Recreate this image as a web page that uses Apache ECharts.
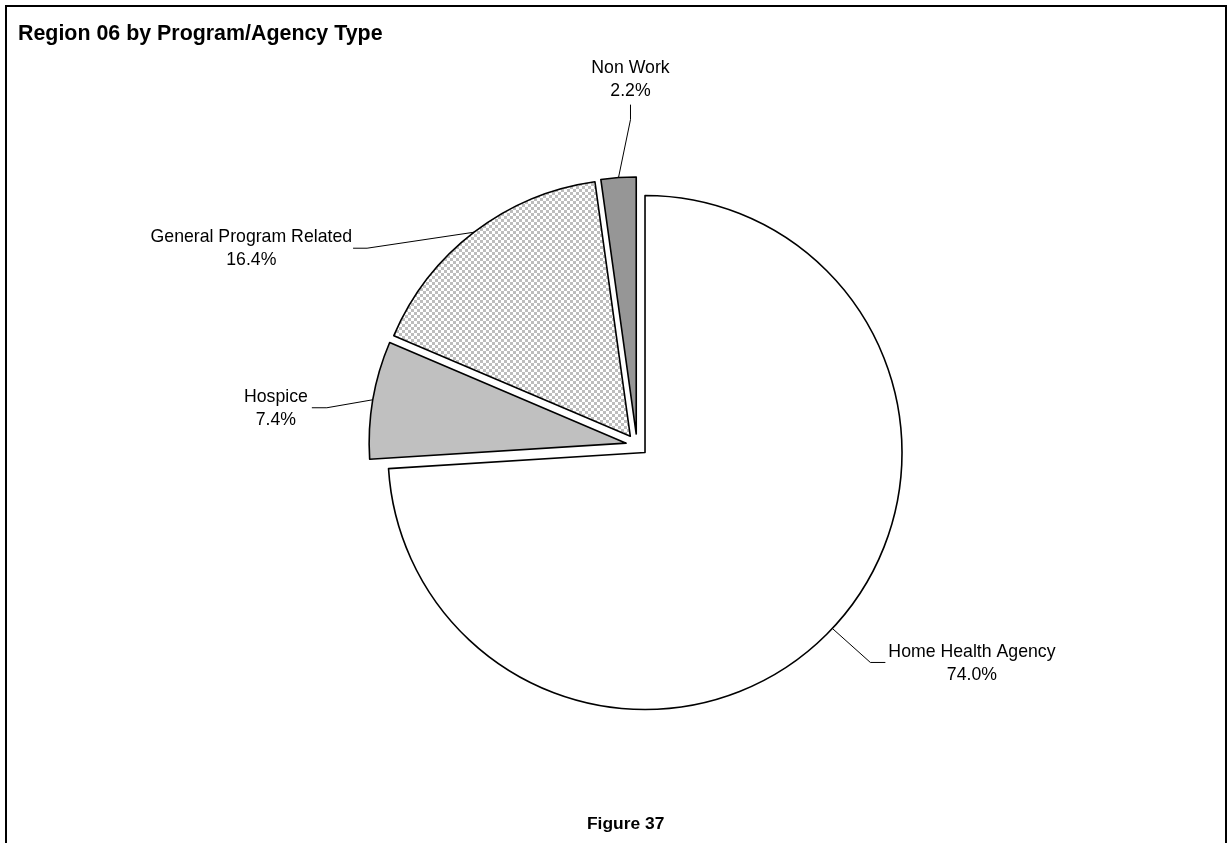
<!DOCTYPE html>
<html>
<head>
<meta charset="utf-8">
<script src="https://cdn.jsdelivr.net/npm/echarts@6/dist/echarts.min.js"></script>
<style>
  html, body { margin: 0; padding: 0; background: #ffffff; }
  #chart { width: 1231px; height: 843px; }
</style>
</head>
<body>
<div id="chart"></div>
<script>
// Share of cases by program / agency type, Region 06
const categories = ['Home Health Agency', 'Hospice', 'General Program Related', 'Non Work'];
const shares = [74.0, 7.4, 16.4, 2.2];

// Slice fills (the third slice uses a checkerboard pattern)
const sliceFills = ['#ffffff', '#c0c0c0', 'checker', '#969696'];

// Pie geometry
const PIE_CX = 637, PIE_CY = 445, PIE_R = 257, EXPLODE = 11;

// Leader line shape for each slice, relative to the arc midpoint:
// elbow offset, end offset, and which side of the end the text sits on
const leaders = [
  { ex: 38, ey: 34, tx: 53, ty: 34, side: 'right', gap: 3, dy: 1.5 },
  { ex: -46, ey: 8, tx: -61, ty: 8, side: 'left', gap: 4, dy: 1 },
  { ex: -107, ey: 16, tx: -121, ty: 16, side: 'left', gap: 1, dy: 0.5 },
  { ex: 12, ey: -58, tx: 12, ty: -73, side: 'top', gap: 2, dy: 0 }
];

function checkerPattern(cell, dark) {
  const c = document.createElement('canvas');
  c.width = cell * 2; c.height = cell * 2;
  const g = c.getContext('2d');
  g.fillStyle = '#ffffff';
  g.fillRect(0, 0, c.width, c.height);
  g.fillStyle = dark;
  g.fillRect(0, 0, cell, cell);
  g.fillRect(cell, cell, cell, cell);
  return { image: c, repeat: 'repeat' };
}

function fillFor(i) {
  return sliceFills[i] === 'checker' ? checkerPattern(3, '#bdbdbd') : sliceFills[i];
}

const total = shares.reduce((a, b) => a + b, 0);
const midAngles = [];
(function () {
  let cum = 0;
  shares.forEach(v => {
    midAngles.push(((cum + v / 2) / total) * 2 * Math.PI);
    cum += v;
  });
})();

const FONT = "'Liberation Sans', Arial, Helvetica, sans-serif";

// One pie layer per slice, each shifted outwards along its own mid angle
const series = categories.map((name, i) => {
  const sx = Math.sin(midAngles[i]), sy = -Math.cos(midAngles[i]);
  const cx = PIE_CX + EXPLODE * sx, cy = PIE_CY + EXPLODE * sy;
  const arcMid = [cx + PIE_R * sx, cy + PIE_R * sy];
  return {
    type: 'pie',
    silent: true,
    animation: false,
    center: [cx, cy],
    radius: [0, PIE_R],
    startAngle: 90,
    clockwise: true,
    avoidLabelOverlap: false,
    minShowLabelAngle: 0,
    emphasis: { disabled: true },
    data: categories.map((n, j) => ({
      name: n,
      value: shares[j],
      itemStyle: j === i
        ? { color: fillFor(j), borderColor: '#000000', borderWidth: 1.6 }
        : { color: 'rgba(0,0,0,0)', borderWidth: 0 },
      label: { show: j === i },
      labelLine: { show: j === i }
    })),
    label: {
      position: 'outside',
      formatter: p => p.name + '\n' + p.value.toFixed(1) + '%',
      fontFamily: FONT,
      fontSize: 17.7,
      lineHeight: 23,
      color: '#000000',
      align: 'center'
    },
    labelLine: {
      show: true,
      length: 20,
      length2: 10,
      lineStyle: { color: '#000000', width: 1 }
    },
    labelLayout: function (params) {
      if (params.dataIndex !== i) return {};
      const L = leaders[i];
      const elbow = [arcMid[0] + L.ex, arcMid[1] + L.ey];
      const end = [arcMid[0] + L.tx, arcMid[1] + L.ty];
      const w = params.labelRect.width, h = params.labelRect.height;
      let x, y;
      if (L.side === 'right') { x = end[0] + L.gap + w / 2; y = end[1] + L.dy; }
      else if (L.side === 'left') { x = end[0] - L.gap - w / 2; y = end[1] + L.dy; }
      else { x = end[0]; y = end[1] - L.gap - h / 2; }
      return {
        x: x, y: y,
        align: 'center', verticalAlign: 'middle',
        labelLinePoints: [arcMid, elbow, end]
      };
    }
  };
});

const chart = echarts.init(document.getElementById('chart'), null, { renderer: 'canvas' });
chart.setOption({
  backgroundColor: '#ffffff',
  animation: false,
  title: [
    {
      text: 'Region 06 by Program/Agency Type',
      left: 18, top: 24, padding: 0,
      textStyle: { fontFamily: FONT, fontSize: 21.4, fontWeight: 'bold', color: '#000000' }
    },
    {
      text: 'Figure 37',
      left: 587, top: 816, padding: 0,
      textStyle: { fontFamily: FONT, fontSize: 17.4, fontWeight: 'bold', color: '#000000' }
    }
  ],
  graphic: [
    {
      type: 'rect',
      silent: true,
      shape: { x: 6, y: 6, width: 1220, height: 850 },
      style: { fill: 'none', stroke: '#000000', lineWidth: 2 }
    }
  ],
  series: series
});
</script>
</body>
</html>
